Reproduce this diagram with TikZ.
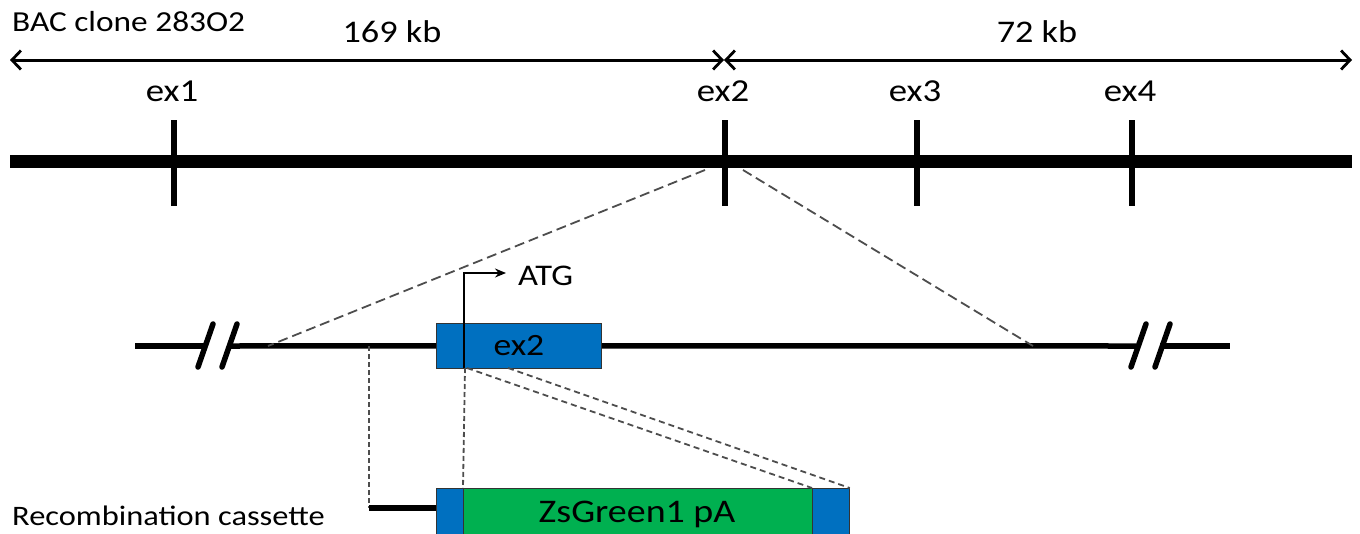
\documentclass[tikz,border=0pt]{standalone}
\usepackage{fontspec}
\setmainfont{Carlito}[FakeStretch=1.15]
\usetikzlibrary{arrows.meta}
\definecolor{exonblue}{HTML}{0070C0}
\definecolor{zsgreen}{HTML}{00B050}
\definecolor{guidegray}{HTML}{4D4D4D}
\newcommand\fsz[1]{\fontsize{#1}{1.2\dimexpr#1pt\relax}\selectfont}
\begin{document}
\begin{tikzpicture}[x=1pt,y=-1pt,
  font=\fsz{30},
  lbl/.style={inner sep=0pt, anchor=base},
  lbll/.style={inner sep=0pt, anchor=base west},
  span/.style={line width=3pt,
    {Straight Barb[length=9pt,width=19pt,line width=2.8pt]}-{Straight Barb[length=9pt,width=19pt,line width=2.8pt]}},
  chrom/.style={line width=13pt},
  exontick/.style={line width=6pt},
  locus/.style={line width=5.5pt},
  breakmark/.style={line width=5.5pt, line cap=round},
  guide/.style={draw=guidegray, line width=1.8pt, dash pattern=on 10pt off 5pt},
  guidefine/.style={draw=guidegray, line width=1.8pt, dash pattern=on 6pt off 4pt},
  boxed/.style={draw=black!80, line width=0.8pt, inner sep=0pt, anchor=north west},
  tss/.style={line width=1.6pt, -{Stealth[length=11pt,width=9pt]}}
]
\useasboundingbox (0,0) rectangle (1360,533);
\clip (0,0) rectangle (1360,533);

% ---- BAC clone overview ----
\node[lbll, font=\fsz{29}] (bac) at (12,31) {BAC clone 283O2};
\node[lbl, font=\fsz{31.5}] (len1) at (392,42) {169 kb};
\node[lbl, font=\fsz{31.5}] (len2) at (1037,42) {72 kb};

\coordinate (spanL) at (10,60);
\coordinate (spanM) at (724,60);
\coordinate (spanR) at (1352,60);
\draw[span] (spanL) -- (spanM);
\draw[span] (spanM) -- (spanR);

\coordinate (chrL) at (10,161);
\coordinate (chrR) at (1352,161);
\draw[chrom] (chrL) -- (chrR);

\foreach \name/\x in {ex1/174, ex2/725, ex3/917, ex4/1132}{
  \node[lbl, font=\fsz{32}] (\name lab) at (\x-2,101) {\name};
  \coordinate (\name top) at (\x,120);
  \coordinate (\name bot) at (\x,206);
  \draw[exontick] (\name top) -- (\name bot);
}

% ---- zoom onto exon 2 ----
\coordinate (lA) at (135,346);
\coordinate (lB) at (205,346);
\coordinate (lC) at (229,346);
\coordinate (lD) at (1136,346);
\coordinate (lE) at (1160,346);
\coordinate (lF) at (1230,346);
\draw[locus] (lA) -- (lB);
\draw[breakmark] (213,324) -- (198,367);
\draw[breakmark] (237,324) -- (222,367);
\draw[breakmark] (1146,324) -- (1131,367);
\draw[breakmark] (1170,324) -- (1155,367);

\node[boxed, fill=exonblue, minimum width=165pt, minimum height=45pt] (ex2box) at (436,323) {};
\node[font=\fsz{31}] (ex2lbl) at (ex2box.center) {ex2};
\draw[locus] (lC) -- (ex2box.west);
\draw[locus] (ex2box.east) -- (lD);
\draw[locus] (lE) -- (lF);

\coordinate (zoomL) at (268,346);
\coordinate (zoomR) at (1033,346);
\coordinate (ex2L) at (705,170);
\coordinate (ex2R) at (743,170);
\draw[guide] (ex2L) -- (zoomL);
\draw[guide] (ex2R) -- (zoomR);

% start codon
\coordinate (atg0) at (464,368);
\coordinate (atg1) at (464,273);
\coordinate (atg2) at (506,273);
\draw[tss] (atg0) -- (atg1) -- (atg2);
\node[lbll] (atg) at (518,285) {ATG};

% ---- recombination cassette ----
\node[lbll, font=\fsz{28.2}] (rc) at (12,525) {Recombination cassette};
\node[boxed, fill=exonblue, minimum width=27pt, minimum height=50pt] (armL) at (436,488) {};
\node[boxed, fill=zsgreen, minimum width=349pt, minimum height=50pt] (zs) at (463,488) {};
\node[boxed, fill=exonblue, minimum width=37pt, minimum height=50pt] (armR) at (812,488) {};
\node[lbl, font=\fsz{33}] (zslab) at (637,522) {ZsGreen1 pA};

\coordinate (homL) at (369,346);
\coordinate (homLb) at (369,508);
\draw[guidefine, dash pattern=on 5pt off 3pt] (homL) -- (homLb);
\draw[locus] (homLb) -- (armL.west |- homLb);

\coordinate (cut1) at (465,368);
\coordinate (cut2) at (467,368);
\coordinate (cut3) at (508,368);
\draw[guidefine, dash pattern=on 5pt off 3pt] (cut1) -- (zs.north west);
\draw[guidefine] (cut2) -- (armR.north west);
\draw[guidefine] (cut3) -- (armR.north east);
\end{tikzpicture}
\end{document}
